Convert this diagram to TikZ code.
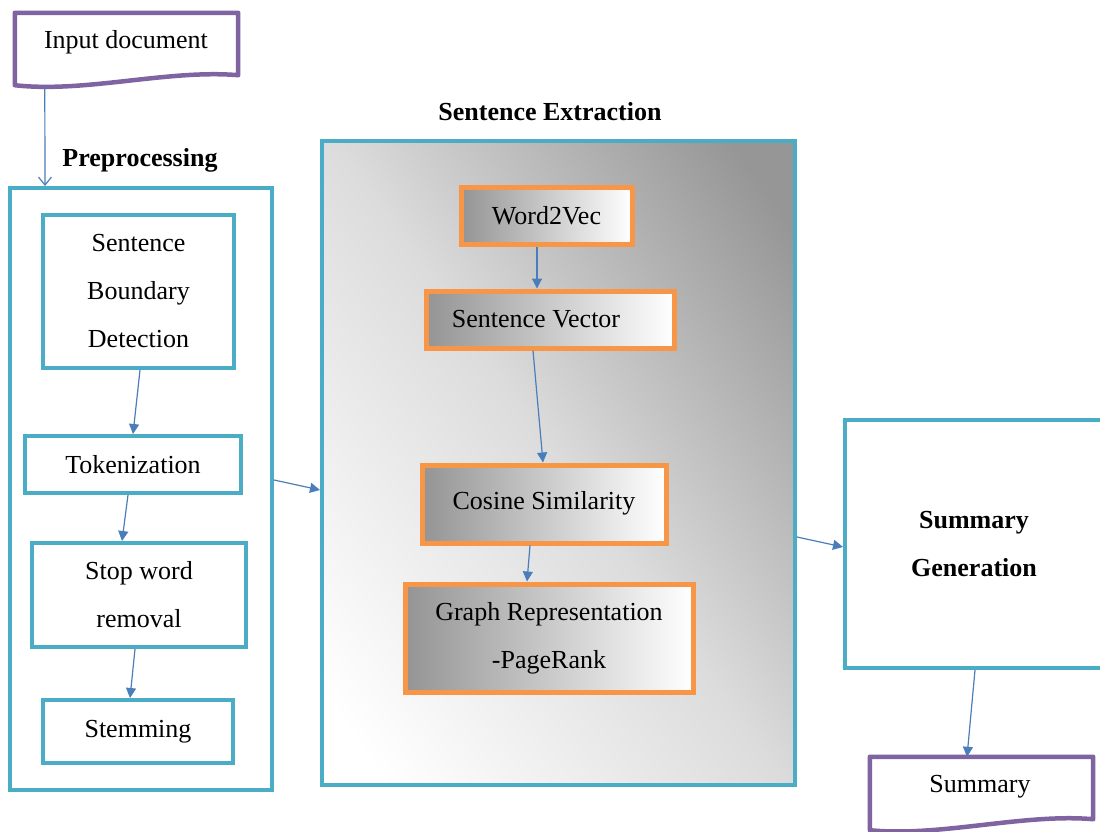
\documentclass[tikz,border=0pt]{standalone}
\usepackage{fontspec}
\setmainfont{Liberation Serif}
\usetikzlibrary{arrows.meta,calc}
\definecolor{tealc}{HTML}{4BACC6}
\definecolor{orangec}{HTML}{F79646}
\definecolor{purplec}{HTML}{8064A2}
\definecolor{arrowc}{HTML}{4A7EBB}
\definecolor{sedark}{HTML}{969696}
\definecolor{semid}{HTML}{DCDCDC}
\definecolor{selight}{HTML}{FFFFFF}
\pgfdeclareverticalshading{seshade}{100bp}{color(0bp)=(selight); color(20bp)=(selight); color(50bp)=(semid); color(80bp)=(sedark); color(100bp)=(sedark)}
\tikzset{
  txt/.style={font=\fontsize{26}{48}\selectfont, align=center, inner sep=0pt},
  tealbox/.style={txt, draw=tealc, line width=4pt, fill=white},
  orangebox/.style={txt, draw=orangec, line width=5pt, left color=black!42, right color=white},
  docnode/.style={txt},
  docline/.style={draw=purplec, line width=4.5pt, fill=white, line join=round},
  arr/.style={draw=arrowc, line width=1.2pt, -{Triangle[length=10pt,width=10pt]}},
  arropen/.style={draw=arrowc, line width=1.2pt, -{Straight Barb[length=8pt,width=13pt]}},
  ttl/.style={font=\fontsize{26}{30}\selectfont\bfseries, inner sep=0pt}
}
\begin{document}
\begin{tikzpicture}[x=1pt,y=-1pt]
\useasboundingbox (0,0) rectangle (1100,832);
% Input document
\node[docnode, minimum width=223pt, minimum height=62pt] (in) at (126.5,44) {};
\draw[docline] (in.north west) -- (in.north east) -- (in.south east)
  .. controls ($(in.south east)+(-70,-6)$) and ($(in.south west)+(70,18)$) .. ($(in.south west)+(0,10)$) -- cycle;
\node[txt] (intext) at (126,42) {Input document};
% Preprocessing
\node[ttl] (pretitle) at (140,160) {Preprocessing};
\node[tealbox, minimum width=262pt, minimum height=602pt] (pre) at (141,489) {};
\node[tealbox, minimum width=191pt, minimum height=153pt] (sbd) at (138.5,291.5) {Sentence\\Boundary\\Detection};
\node[tealbox, minimum width=216pt, minimum height=57pt] (tok) at (133,464.5) {Tokenization};
\node[tealbox, minimum width=214pt, minimum height=104pt] (stop) at (139,595) {Stop word\\removal};
\node[tealbox, minimum width=190pt, minimum height=63pt] (stem) at (138,731.5) {Stemming};
% Sentence extraction
\node[ttl] (setitle) at (550,112) {Sentence Extraction};
\node[txt, draw=tealc, line width=4pt, shading=seshade, shading angle=-55, minimum width=473pt, minimum height=644pt] (se) at (558.5,463) {};
\node[orangebox, minimum width=171pt, minimum height=57pt] (w2v) at (546.5,215.5) {Word2Vec};
\node[orangebox, minimum width=248pt, minimum height=57pt] (sv) at (550,319.5) {Sentence Vector\hspace*{28pt}};
\node[orangebox, minimum width=244pt, minimum height=78pt] (cs) at (544,504) {\raisebox{7pt}{Cosine Similarity}};
\node[orangebox, minimum width=288pt, minimum height=108pt] (gr) at (549,638) {Graph Representation\\-PageRank};
% Summary generation
\node[tealbox, font=\fontsize{26}{48}\selectfont\bfseries, minimum width=258pt, minimum height=248pt] (sg) at (974,544) {Summary\\Generation};
% Summary doc
\node[docnode, minimum width=223pt, minimum height=62pt] (sum) at (981.5,788) {};
\draw[docline] (sum.north west) -- (sum.north east) -- (sum.south east)
  .. controls ($(sum.south east)+(-70,-6)$) and ($(sum.south west)+(70,18)$) .. ($(sum.south west)+(0,11)$) -- cycle;
\node[txt] (sumtext) at (980,787) {Summary};
% arrows
\coordinate (inout) at ($(in.south west)+(30,12)$);
\draw[arropen] (inout) -- ([xshift=-96pt]pre.north);
\draw[arr] ([xshift=1.5pt]sbd.south) -- (tok.north);
\draw[arr] ([xshift=-5pt]tok.south) -- ([xshift=-17pt]stop.north);
\draw[arr] ([xshift=-4pt]stop.south) -- ([xshift=-8pt]stem.north);
\draw[arr] ([yshift=9pt]pre.east) -- ([yshift=-27pt]se.west);
\draw[arr] ([xshift=-9.5pt]w2v.south) -- ([xshift=-13pt]sv.north);
\draw[arr] ([xshift=-17pt]sv.south) -- ([xshift=-1pt]cs.north);
\draw[arr] ([xshift=-14pt]cs.south) -- ([xshift=-22pt]gr.north);
\draw[arr] ([yshift=-74pt]se.east) -- ([yshift=-3pt]sg.west);
\draw[arr] ([xshift=1pt]sg.south) -- ([xshift=-14.5pt]sum.north);
\end{tikzpicture}
\end{document}
